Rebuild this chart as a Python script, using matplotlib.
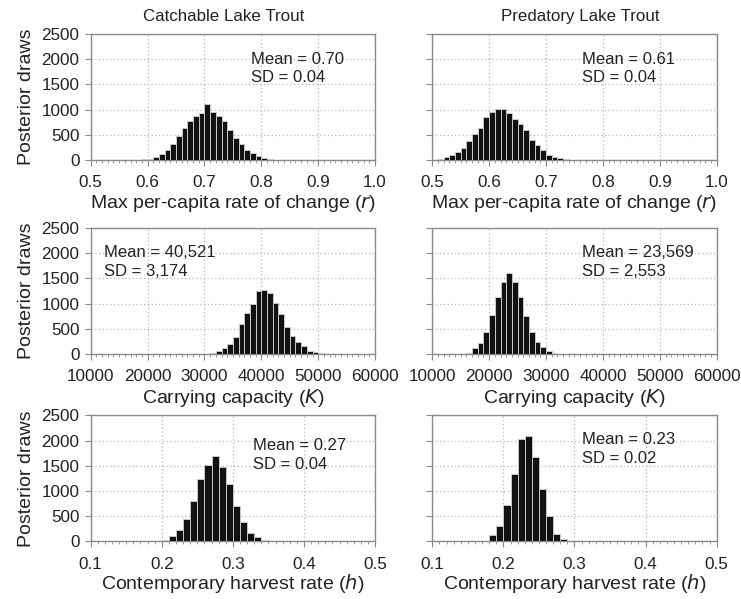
import numpy as np
import matplotlib
matplotlib.use("Agg")
import matplotlib.pyplot as plt
from matplotlib.ticker import MultipleLocator, FormatStrFormatter

plt.rcParams['font.family'] = ['Liberation Sans', 'DejaVu Sans']

# column titles
titles = ["Catchable Lake Trout", "Predatory Lake Trout"]

# max per-capita rate of change (r), bins of 0.01
r_catch_start = 0.58
r_catch_counts = [3, 10, 25, 60, 120, 200, 310, 480, 630, 780, 870, 940, 1110,
                  960, 880, 770, 600, 430, 310, 200, 130, 80, 40, 18, 7, 2]
r_pred_start = 0.50
r_pred_counts = [4, 15, 55, 105, 165, 245, 370, 525, 640, 850, 950, 1005, 1010,
                 930, 810, 710, 590, 400, 290, 195, 105, 65, 33, 13, 4]

# carrying capacity (K), bins of 1000
k_catch_start = 30000
k_catch_counts = [5, 25, 60, 120, 205, 330, 600, 810, 1000, 1250, 1265, 1210,
                  1005, 800, 540, 350, 232, 155, 68, 42, 12, 3]
k_pred_start = 15000
k_pred_counts = [5, 25, 110, 225, 445, 765, 1130, 1435, 1605, 1435, 1140, 755,
                 445, 245, 143, 55, 20, 5]

# contemporary harvest rate (h), bins of 0.01
h_catch_start = 0.19
h_catch_counts = [5, 22, 105, 225, 455, 805, 1230, 1520, 1695, 1470, 1150, 710,
                  385, 165, 80, 28, 5]
h_pred_start = 0.17
h_pred_counts = [13, 119, 298, 728, 1336, 2024, 2090, 1673, 1045, 509, 139, 46, 13]

panels = [
    # row 0
    dict(start=r_catch_start, width=0.01, counts=r_catch_counts, xlim=(0.5, 1.0),
         major=0.1, minor=0.01, fmt='%.1f', xlabel='Max per-capita rate of change ($\\it{r}$)',
         text='Mean = 0.70\nSD = 0.04', tx=0.565, ty=0.86),
    dict(start=r_pred_start, width=0.01, counts=r_pred_counts, xlim=(0.5, 1.0),
         major=0.1, minor=0.01, fmt='%.1f', xlabel='Max per-capita rate of change ($\\it{r}$)',
         text='Mean = 0.61\nSD = 0.04', tx=0.527, ty=0.86),
    # row 1
    dict(start=k_catch_start, width=1000, counts=k_catch_counts, xlim=(10000, 60000),
         major=10000, minor=1000, fmt='%d', xlabel='Carrying capacity ($\\it{K}$)',
         text='Mean = 40,521\nSD = 3,174', tx=0.046, ty=0.865),
    dict(start=k_pred_start, width=1000, counts=k_pred_counts, xlim=(10000, 60000),
         major=10000, minor=1000, fmt='%d', xlabel='Carrying capacity ($\\it{K}$)',
         text='Mean = 23,569\nSD = 2,553', tx=0.527, ty=0.865),
    # row 2
    dict(start=h_catch_start, width=0.01, counts=h_catch_counts, xlim=(0.1, 0.5),
         major=0.1, minor=0.01, fmt='%.1f', xlabel='Contemporary harvest rate ($\\it{h}$)',
         text='Mean = 0.27\nSD = 0.04', tx=0.57, ty=0.82),
    dict(start=h_pred_start, width=0.01, counts=h_pred_counts, xlim=(0.1, 0.5),
         major=0.1, minor=0.01, fmt='%.1f', xlabel='Contemporary harvest rate ($\\it{h}$)',
         text='Mean = 0.23\nSD = 0.02', tx=0.527, ty=0.865),
]

fig = plt.figure(figsize=(7.41, 5.99), dpi=100)

lefts = [0.1224, 0.5834]
bottoms = [0.7329, 0.4090, 0.0960]
w, h = 0.3838, 0.2104
title_x = [0.467, 0.521]

grid_kw = dict(color='#b5b5b5', linestyle=(0, (1, 2)), linewidth=0.9)
text_col = '#222222'

for i, p in enumerate(panels):
    row, col = divmod(i, 2)
    ax = fig.add_axes([lefts[col], bottoms[row], w, h])
    counts = np.array(p['counts'])
    x = p['start'] + p['width'] * np.arange(len(counts))
    ax.bar(x, counts, width=p['width'], align='edge', color='#111111',
           edgecolor='#c8c8c8', linewidth=0.7, zorder=3)

    ax.set_xlim(*p['xlim'])
    ax.set_ylim(0, 2500)
    ax.xaxis.set_major_locator(MultipleLocator(p['major']))
    ax.xaxis.set_minor_locator(MultipleLocator(p['minor']))
    ax.xaxis.set_major_formatter(FormatStrFormatter(p['fmt']))
    ax.yaxis.set_major_locator(MultipleLocator(500))
    ax.grid(True, which='major', **grid_kw)
    ax.set_axisbelow(True)

    for s in ax.spines.values():
        s.set_color('#8a8a8a')
        s.set_linewidth(1.0)

    ax.tick_params(axis='x', which='major', direction='out', length=4,
                   color='#8a8a8a', pad=7, labelsize=12.3, labelcolor=text_col)
    ax.tick_params(axis='x', which='minor', direction='out', length=2.5,
                   color='#8a8a8a')
    ax.tick_params(axis='y', which='major', direction='out', length=4,
                   color='#8a8a8a', pad=4, labelsize=12.3, labelcolor=text_col)

    if col == 0:
        ax.set_ylabel('Posterior draws', fontsize=14, color=text_col, labelpad=5)
    else:
        ax.tick_params(axis='y', labelleft=False)

    ax.set_xlabel(p['xlabel'], fontsize=14, color=text_col,
                  labelpad=0 if row == 2 else 2)

    ax.text(p['tx'], p['ty'], p['text'], transform=ax.transAxes, ha='left',
            va='top', fontsize=12, color=text_col, linespacing=1.3, zorder=4)

    if row == 0:
        ax.set_title(titles[col], fontsize=12.2, color=text_col, pad=9,
                     x=title_x[col])

fig.savefig('out.png', dpi=100)
